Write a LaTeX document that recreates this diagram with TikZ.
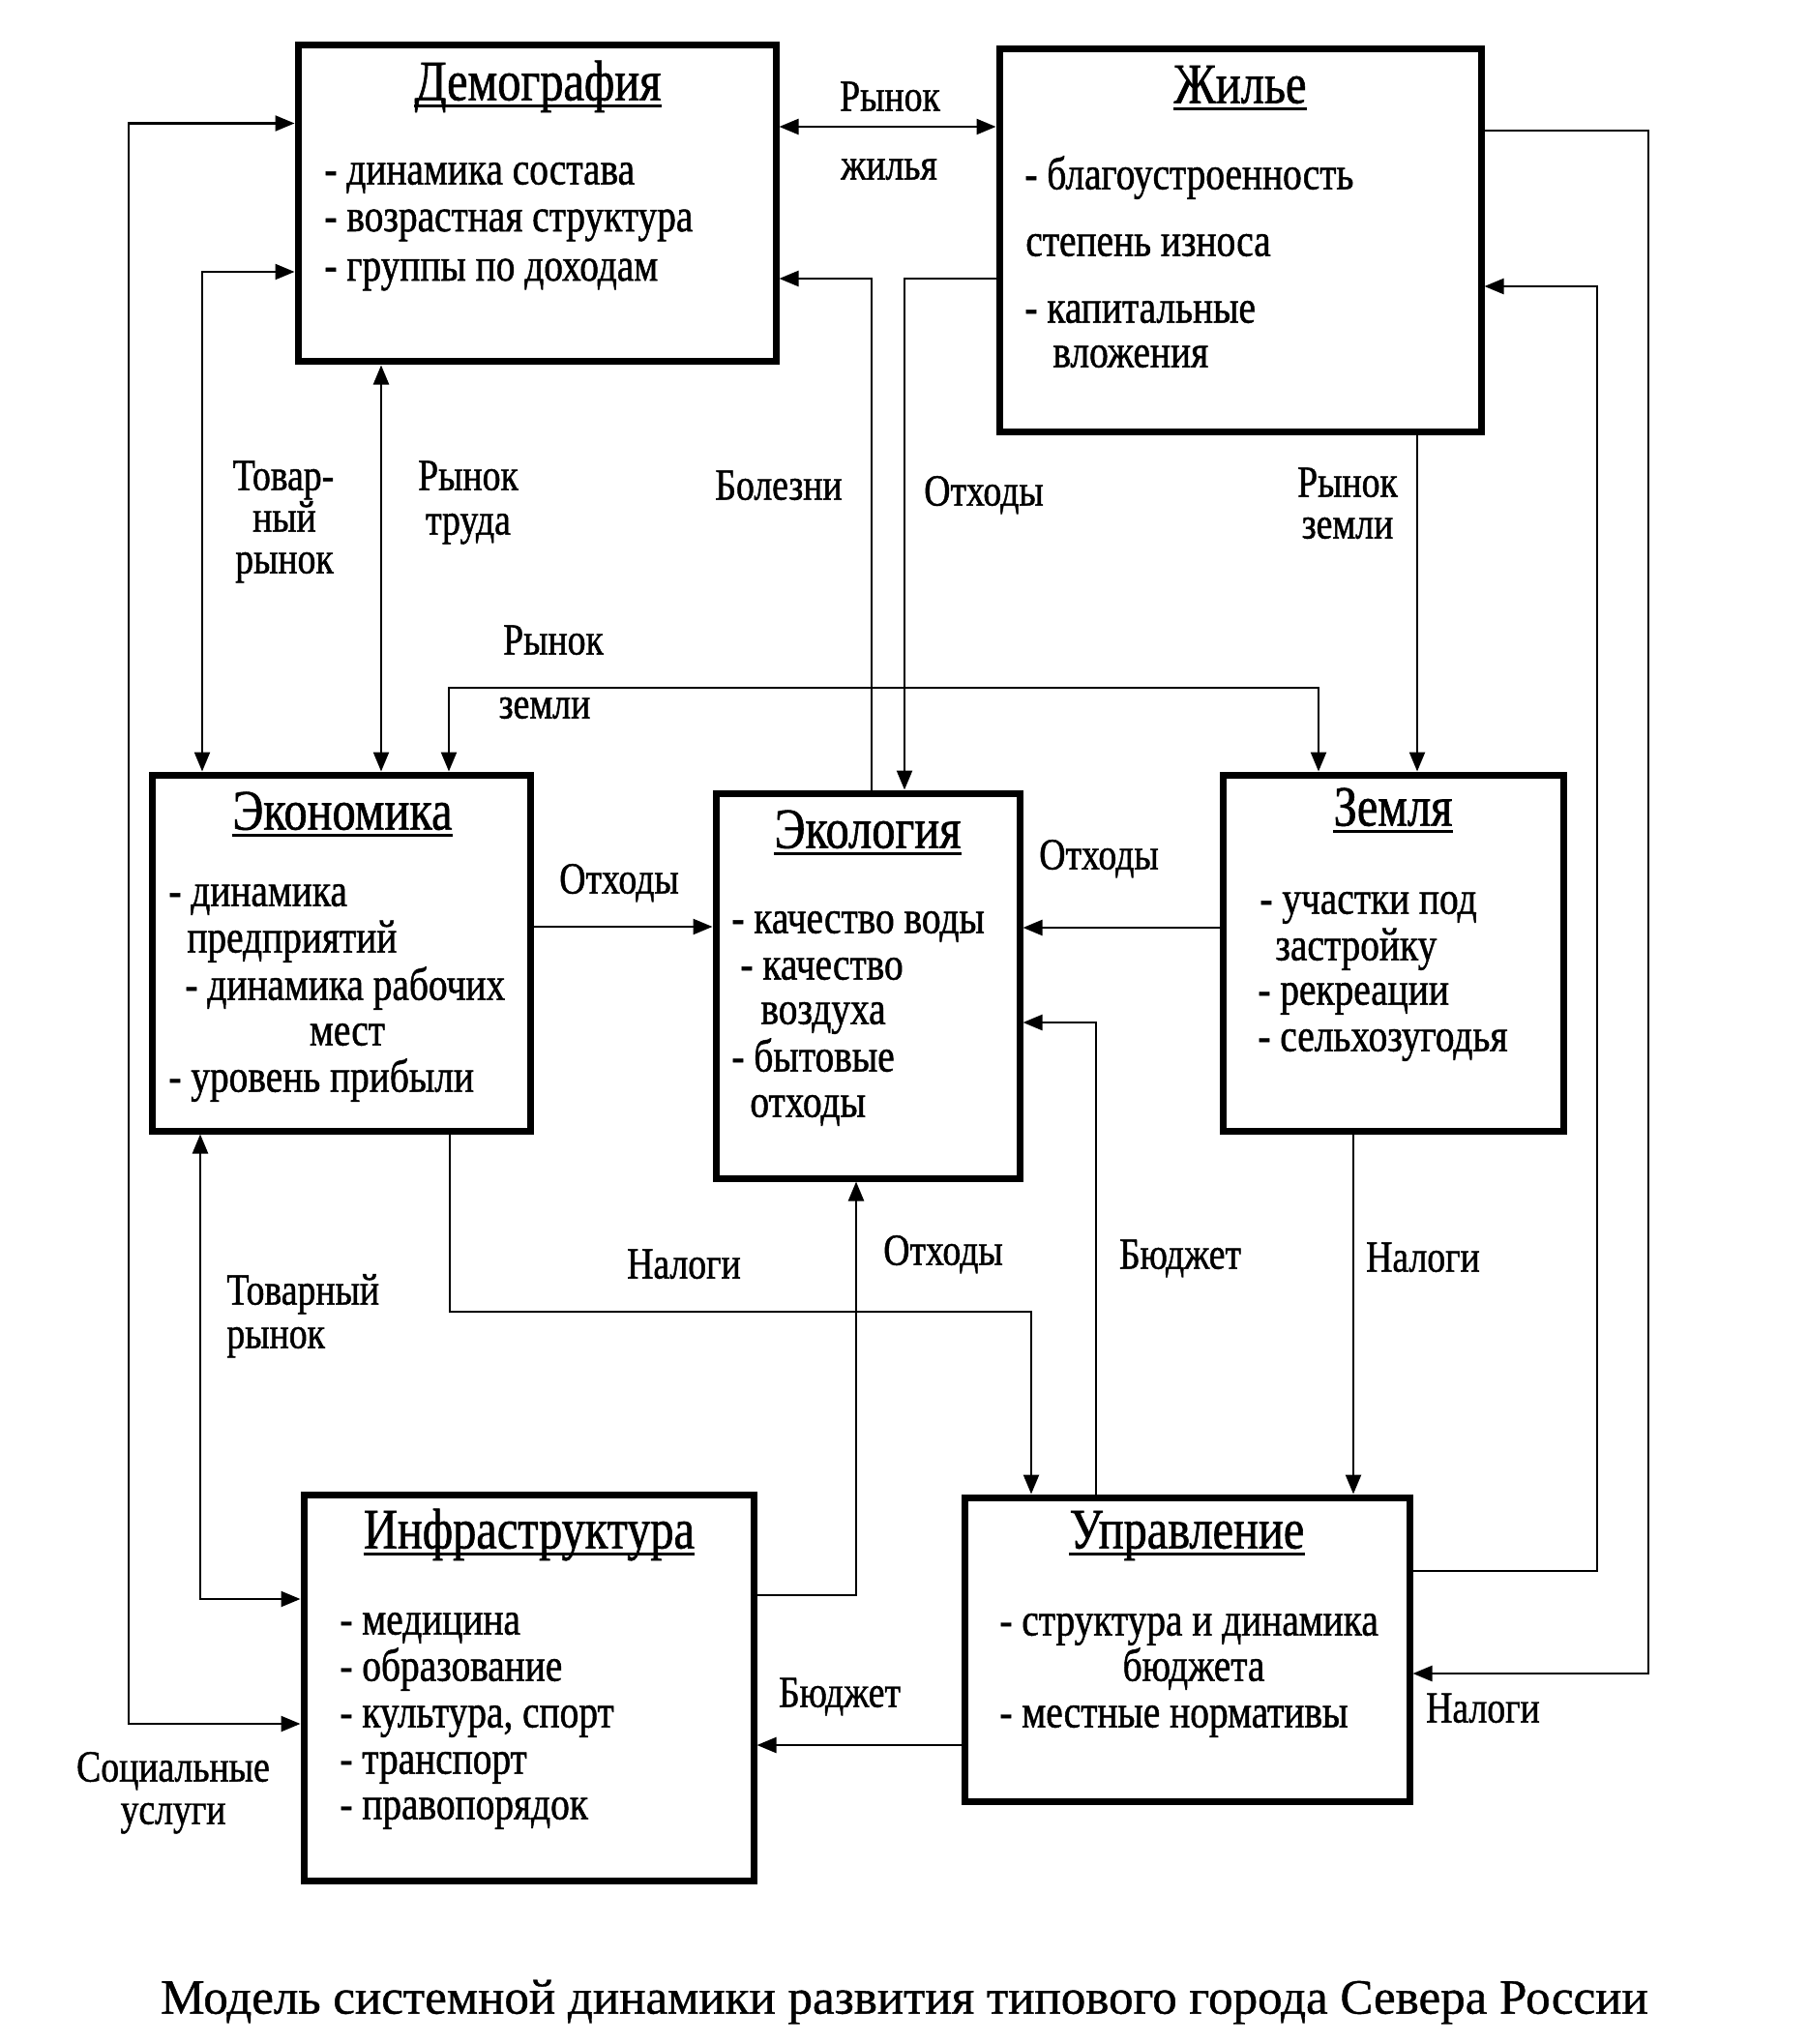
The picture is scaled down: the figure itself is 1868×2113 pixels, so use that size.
\documentclass[tikz,border=0pt]{standalone}
\usepackage{fontspec}
\setmainfont{Liberation Serif}[FakeStretch=0.82,FakeBold=1]
\newfontfamily\capfont{Liberation Serif}[FakeBold=0.8]
\usetikzlibrary{arrows.meta}
\begin{document}
\begin{tikzpicture}[x=0.5pt,y=-0.5pt,
  box/.style={draw, line width=3.5pt, inner sep=0pt},
  con/.style={line width=1.2pt, -{Triangle[length=10pt,width=8pt]}},
  bi/.style={line width=1.2pt, {Triangle[length=10pt,width=8pt]}-{Triangle[length=10pt,width=8pt]}},
  ul/.style={line width=1.4pt},
  txt/.style={inner sep=0pt, yshift=-5pt},
  lbl/.style={txt, font=\fontsize{23}{26}\selectfont, anchor=mid},
  lbll/.style={txt, font=\fontsize{23}{26}\selectfont, anchor=mid west},
  item/.style={txt, font=\fontsize{24}{27}\selectfont, anchor=mid west},
  itemc/.style={txt, font=\fontsize{24}{27}\selectfont, anchor=mid},
  ttl/.style={txt, font=\fontsize{29.5}{33}\selectfont, anchor=mid}]
\fill[white] (0,0) rectangle (1868,2113);
\useasboundingbox (0,0) rectangle (1868,2113);

% boxes
\node[box, minimum width=247pt, minimum height=163.5pt] (dem) at (555,210.5) {};
\node[box, minimum width=249pt, minimum height=197.5pt] (zhil) at (1282,248.5) {};
\node[box, minimum width=195.5pt, minimum height=184pt] (eko) at (352.5,985) {};
\node[box, minimum width=157pt, minimum height=199pt] (ecol) at (897,1019) {};
\node[box, minimum width=176pt, minimum height=184pt] (zem) at (1440,985) {};
\node[box, minimum width=232.5pt, minimum height=199.5pt] (infra) at (546.5,1744.5) {};
\node[box, minimum width=230pt, minimum height=157pt] (upr) at (1227,1705) {};

% titles (underlined)
\node[ttl] (demT) at (556,89) {Демография};
\node[ttl] (zhilT) at (1282,92) {Жилье};
\node[ttl] (ekoT) at (354,843) {Экономика};
\node[ttl] (ecolT) at (897,862) {Экология};
\node[ttl] (zemT) at (1440,839) {Земля};
\node[ttl] (infraT) at (547,1586) {Инфраструктура};
\node[ttl] (uprT) at (1227,1586) {Управление};
\foreach \t in {demT,zhilT,ekoT,ecolT,zemT,infraT,uprT}
  \draw[ul] ([yshift=-3pt]\t.base west) -- ([yshift=-3pt]\t.base east);

% box texts
\node[item] (dem1) at (335,176) {- динамика состава};
\node[item] (dem2) at (335,224.5) {- возрастная структура};
\node[item] (dem3) at (335,275.5) {- группы по доходам};

\node[item] (zhil1) at (1059,181) {- благоустроенность};
\node[item] (zhil2) at (1060,250) {степень износа};
\node[item] (zhil3) at (1059,319) {- капитальные};
\node[item] (zhil4) at (1088,365) {вложения};

\node[item] (eko1) at (174,922) {- динамика};
\node[item] (eko2) at (193,970) {предприятий};
\node[item] (eko3) at (191,1019) {- динамика рабочих};
\node[itemc] (eko4) at (359,1066) {мест};
\node[item] (eko5) at (174,1114) {- уровень прибыли};

\node[item] (ecol1) at (756,950) {- качество воды};
\node[item] (ecol2) at (765,998) {- качество};
\node[item] (ecol3) at (786,1044) {воздуха};
\node[item] (ecol4) at (756,1093) {- бытовые};
\node[item] (ecol5) at (775,1140) {отходы};

\node[item] (zem1) at (1302,930) {- участки под};
\node[item] (zem2) at (1318,978) {застройку};
\node[item] (zem3) at (1300,1024) {- рекреации};
\node[item] (zem4) at (1300,1072) {- сельхозугодья};

\node[item] (infra1) at (351,1675) {- медицина};
\node[item] (infra2) at (351,1723) {- образование};
\node[item] (infra3) at (351,1771) {- культура, спорт};
\node[item] (infra4) at (351,1819) {- транспорт};
\node[item] (infra5) at (351,1866) {- правопорядок};

\node[item] (upr1) at (1033,1676) {- структура и динамика};
\node[itemc] (upr2) at (1234,1723) {бюджета};
\node[item] (upr3) at (1033,1771) {- местные нормативы};

% connectors
\draw[bi] (dem.west |- 0,127.5) -- (133,127.5) -- (133,1782) -- (infra.west |- 0,1782);
\draw[bi] (dem.west |- 0,281) -- (209,281) -- (eko.north -| 209,0);
\draw[bi] (dem.south -| 394,0) -- (eko.north -| 394,0);
\draw[bi] (eko.north -| 464,0) -- (464,711) -- (1363,711) -- (zem.north -| 1363,0);
\draw[con] (ecol.north -| 901,0) -- (901,288) -- (dem.east |- 0,288);
\draw[con] (zhil.west |- 0,288) -- (935,288) -- (ecol.north -| 935,0);
\draw[bi] (dem.east |- 0,131) -- (zhil.west |- 0,131);
\draw[con] (zhil.east |- 0,135) -- (1704,135) -- (1704,1730) -- (upr.east |- 0,1730);
\draw[con] (upr.east |- 0,1624) -- (1651,1624) -- (1651,296) -- (zhil.east |- 0,296);
\draw[con] (zhil.south -| 1465,0) -- (zem.north -| 1465,0);
\draw[con] (eko.east |- 0,958) -- (ecol.west |- 0,958);
\draw[con] (zem.west |- 0,959) -- (ecol.east |- 0,959);
\draw[con] (upr.north -| 1133,0) -- (1133,1057) -- (ecol.east |- 0,1057);
\draw[con] (eko.south -| 465,0) -- (465,1356) -- (1066,1356) -- (upr.north -| 1066,0);
\draw[con] (infra.east |- 0,1649) -- (885,1649) -- (ecol.south -| 885,0);
\draw[con] (zem.south -| 1399,0) -- (upr.north -| 1399,0);
\draw[con] (upr.west |- 0,1804) -- (infra.east |- 0,1804);
\draw[bi] (eko.south -| 207,0) -- (207,1653) -- (infra.west |- 0,1653);

% connector labels
\node[lbl] (l1a) at (920,100) {Рынок};
\node[lbl] (l1b) at (919,171) {жилья};
\node[lbl] (l2a) at (293,492) {Товар-};
\node[lbl] (l2b) at (294,535) {ный};
\node[lbl] (l2c) at (294,578) {рынок};
\node[lbl] (l3a) at (484,492) {Рынок};
\node[lbl] (l3b) at (484,538) {труда};
\node[lbl] (l4) at (805,502) {Болезни};
\node[lbl] (l5) at (1017,508) {Отходы};
\node[lbl] (l6a) at (1393,499) {Рынок};
\node[lbl] (l6b) at (1393,542) {земли};
\node[lbl] (l7a) at (572,662) {Рынок};
\node[lbl] (l7b) at (563,728) {земли};
\node[lbl] (l8) at (640,909) {Отходы};
\node[lbl] (l9) at (1136,884) {Отходы};
\node[lbl] (l10) at (707,1307) {Налоги};
\node[lbl] (l11) at (975,1293) {Отходы};
\node[lbl] (l12) at (1220,1297) {Бюджет};
\node[lbl] (l13) at (1471,1300) {Налоги};
\node[lbll] (l14a) at (234,1334) {Товарный};
\node[lbll] (l14b) at (234,1379) {рынок};
\node[lbl] (l15) at (868,1750) {Бюджет};
\node[lbl] (l16) at (1533,1766) {Налоги};
\node[lbl] (l17a) at (179,1827) {Социальные};
\node[lbl] (l17b) at (179,1871) {услуги};

\node[txt, anchor=mid, font=\capfont\fontsize{25.5}{30}\selectfont] (cap) at (935,2067) {Модель системной динамики развития типового города Севера России};
\end{tikzpicture}
\end{document}
